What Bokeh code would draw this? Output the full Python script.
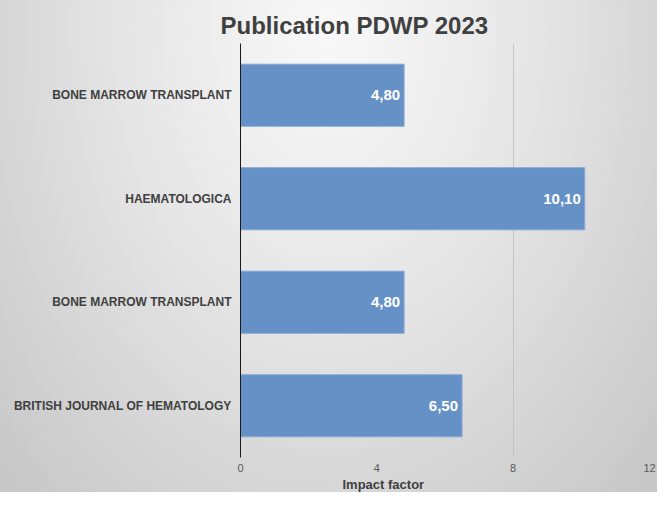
from bokeh.plotting import figure
from bokeh.models import ColumnDataSource, Range1d, FixedTicker, LabelSet, Title
from bokeh.core.properties import value
from bokeh.embed import file_html
from bokeh.resources import INLINE

# Data (top to bottom as shown)
journals = ["BONE MARROW TRANSPLANT", "HAEMATOLOGICA", "BONE MARROW TRANSPLANT",
            "BRITISH JOURNAL OF HEMATOLOGY"]
impact = [4.80, 10.10, 4.80, 6.50]
x_ticks = [0, 4, 8, 12]

n = len(journals)
ypos = [n - i for i in range(n)]
labels = [f"{v:.2f}".replace(".", ",") for v in impact]
src = ColumnDataSource(dict(y=ypos, v=impact, lab=labels))

FONT = "Liberation Sans"

p = figure(width=657, height=492, output_backend="svg", toolbar_location=None,
           x_range=Range1d(0, 12), y_range=Range1d(0.5, n + 0.5),
           min_border_left=240, min_border_right=8, min_border_top=43,
           min_border_bottom=28)
p.styles = {"background": "radial-gradient(farthest-corner at 50% 6%, #f9f9f9 0%, #e5e5e5 45%, #c6c6c6 100%)"}
p.border_fill_color = None
p.background_fill_color = None
p.outline_line_color = None

p.title.text = "Publication PDWP 2023"
p.title.text_font = FONT
p.title.text_font_size = "24px"
p.title.text_font_style = "bold"
p.title.text_color = "#404040"
p.title.align = "left"
p.title.offset = -20
p.title.standoff = 10

p.hbar(y="y", right="v", left=0, height=0.6, source=src,
       fill_color="#6691c6", line_color="#86a8d3", line_width=1)

p.add_layout(LabelSet(x="v", y="y", text="lab", source=src, x_offset=-4,
                      text_align="right", text_baseline="middle",
                      text_color="white", text_font=value(FONT),
                      text_font_size="15px", text_font_style="bold"))

# x axis
xa = p.xaxis[0]
xa.ticker = FixedTicker(ticks=x_ticks)
xa.axis_line_color = None
xa.major_tick_line_color = None
xa.minor_tick_line_color = None
xa.major_tick_out = 0
xa.major_tick_in = 0
xa.major_label_text_font = FONT
xa.major_label_text_font_size = "11px"
xa.major_label_text_color = "#595959"
xa.major_label_standoff = 6

p.add_layout(Title(text="Impact factor", text_font=FONT, text_font_size="13px",
                   text_font_style="bold", text_color="#404040",
                   align="left", offset=102, standoff=1), "below")

# y axis
ya = p.yaxis[0]
ya.ticker = FixedTicker(ticks=ypos)
ya.major_label_overrides = {y: j for y, j in zip(ypos, journals)}
ya.axis_line_color = "#1a1a1a"
ya.axis_line_width = 1
ya.major_tick_line_color = None
ya.minor_tick_line_color = None
ya.major_tick_out = 0
ya.major_tick_in = 0
ya.major_label_text_font = FONT
ya.major_label_text_font_size = "12px"
ya.major_label_text_font_style = "bold"
ya.major_label_text_color = "#404040"
ya.major_label_standoff = 9

p.ygrid.grid_line_color = None
p.xgrid.ticker = FixedTicker(ticks=[8, 12])
p.xgrid.grid_line_color = "#c4c4c4"
p.xgrid.grid_line_width = 1

open("out.html", "w").write(file_html(p, INLINE))
